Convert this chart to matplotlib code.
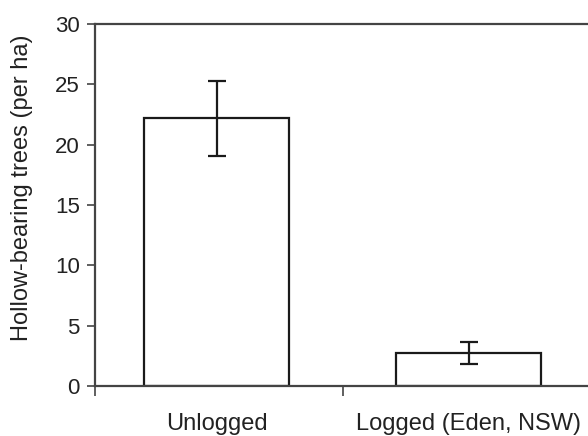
import matplotlib
matplotlib.use("Agg")
import matplotlib.pyplot as plt

categories = ["Unlogged", "Logged (Eden, NSW)"]
means = [22.2, 2.75]
errors = [3.1, 0.93]

plt.rcParams['font.family'] = ['Liberation Sans', 'DejaVu Sans']

fig = plt.figure(figsize=(5.88, 4.36), dpi=100)
ax = fig.add_axes([95/588, 1-386/436, (595-95)/588, (386-24)/436])

x = list(range(len(categories)))
ax.bar(x, means, width=0.575, color="white", edgecolor="#1a1a1a", linewidth=1.6, zorder=2)
ax.errorbar(x, means, yerr=errors, fmt="none", ecolor="#1a1a1a", elinewidth=1.6,
            capsize=6.5, capthick=1.6, zorder=3)

ax.set_xlim(-0.482, 1.5)
ax.set_ylim(0, 30)
ax.set_yticks([0, 5, 10, 15, 20, 25, 30])
ax.set_xticks([-0.482, 0.5])
ax.set_xticklabels([])
ax.set_xticks(x, minor=True)
ax.set_xticklabels(categories, minor=True)
ax.tick_params(axis="x", which="minor", length=0, pad=19.5, labelsize=17, labelcolor="#222222")
ax.tick_params(axis="x", which="major", length=7, width=1.2, color="#444444", direction="out")
ax.tick_params(axis="y", length=6, width=1.2, color="#444444", direction="out", pad=5,
               labelsize=16, labelcolor="#222222")

for s in ["left", "bottom", "top", "right"]:
    ax.spines[s].set_linewidth(1.6)
    ax.spines[s].set_color("#444444")

ax.set_ylabel("Hollow-bearing trees (per ha)", fontsize=17, color="#222222")
ax.yaxis.set_label_coords(-0.124, 0.547)

fig.savefig("out.png", dpi=100)
